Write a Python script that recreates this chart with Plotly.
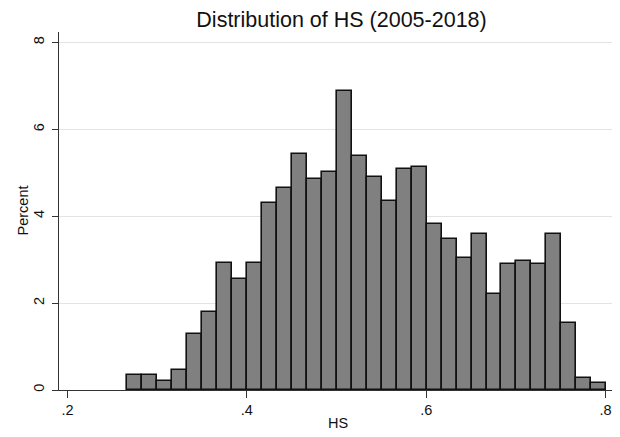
import plotly.graph_objects as go

# Histogram of HS: 32 equal-width bins
bin_start = 0.2667
bin_width = 0.01669
percent = [0.35, 0.35, 0.21, 0.46, 1.30, 1.79, 2.93, 2.55, 2.93,
           4.31, 4.66, 5.44, 4.85, 5.02, 6.88, 5.38, 4.90, 4.36,
           5.08, 5.13, 3.82, 3.47, 3.04, 3.58, 2.21, 2.91, 2.97,
           2.91, 3.58, 1.55, 0.28, 0.15]
x_tickvals = [0.2, 0.4, 0.6, 0.8]
x_ticktext = [".2", ".4", ".6", ".8"]
y_tickvals = [0, 2, 4, 6, 8]

centers = [bin_start + bin_width * (i + 0.5) for i in range(len(percent))]

fig = go.Figure(go.Bar(
    x=centers, y=percent, width=bin_width,
    marker=dict(color="#808080", line=dict(color="#111111", width=1.6)),
))

font = "Liberation Sans, Arial, sans-serif"
# page body has an 8px margin, so the figure is 8px smaller than the window
fig.update_layout(
    width=612, height=429,
    margin=dict(l=51, r=3, t=24, b=47),
    paper_bgcolor="white", plot_bgcolor="white",
    showlegend=False, bargap=0,
    font=dict(family=font, color="#111111", size=14),
    title=dict(text="Distribution of HS (2005-2018)", x=0.545, xanchor="center",
               y=0.973, yanchor="middle", font=dict(size=21.5, family=font, color="#111111")),
    annotations=[dict(text="Percent", xref="paper", yref="paper", x=0, y=0.5,
                      xshift=-36.5, xanchor="center", yanchor="middle", textangle=-90,
                      showarrow=False, font=dict(size=14.5, color="#111111"))],
)
fig.update_xaxes(
    range=[0.1905, 0.8128], tickvals=x_tickvals, ticktext=x_ticktext,
    showgrid=False, zeroline=False, showline=True, linecolor="#333333", linewidth=1,
    ticks="outside", ticklen=7, tickcolor="#333333", automargin=False,
    tickfont=dict(size=14.5),
    title=dict(text="HS", font=dict(size=14.5), standoff=0),
)
fig.update_yaxes(
    range=[0, 8.24], tickvals=y_tickvals, tickangle=-90,
    showgrid=True, gridcolor="#e3e3e3", gridwidth=1, zeroline=False,
    showline=True, linecolor="#333333", linewidth=1,
    ticks="outside", ticklen=6, tickcolor="#333333", automargin=False,
    ticklabelstandoff=2,
    tickfont=dict(size=14.5),
)

fig.write_html("out.html")
